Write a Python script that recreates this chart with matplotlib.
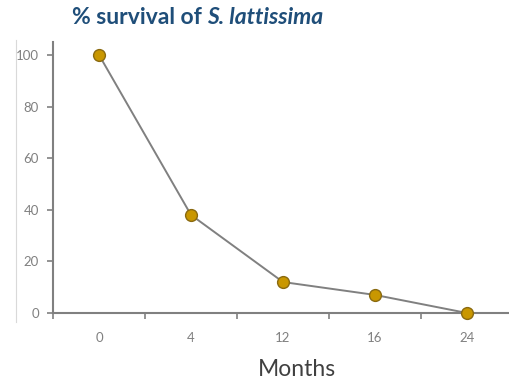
import matplotlib
matplotlib.use("Agg")
import matplotlib.pyplot as plt
from matplotlib.lines import Line2D

months = ["0", "4", "12", "16", "24"]
survival = [100, 38, 12, 7, 0]
y_ticks = [0, 20, 40, 60, 80, 100]

grey = "#808080"
gold = "#c99700"
navy = "#1f4e79"

plt.rcParams["font.family"] = ["Lato", "DejaVu Sans"]

fig = plt.figure(figsize=(5.10, 3.83), dpi=100)
ax = fig.add_axes([53 / 510, 1 - 313 / 383, 460 / 510, 271 / 383])

x = range(len(months))
ax.plot(x, survival, color=grey, lw=1.4, marker="o", ms=8.5,
        markerfacecolor=gold, markeredgecolor="#8a6a10", markeredgewidth=1.0,
        clip_on=False, zorder=3)

ax.set_xlim(-0.5, len(months) - 0.5)
ax.set_ylim(0, 105)
ax.set_yticks(y_ticks)
ax.set_xticks(x)
ax.set_xticklabels(months)
# category boundaries carry the x tick marks
ax.set_xticks([i - 0.5 for i in range(len(months) + 1)], minor=True)
ax.tick_params(axis="x", which="major", length=0, pad=14, labelsize=9.5, labelcolor=grey)
ax.tick_params(axis="x", which="minor", length=4, width=1.2, color=grey, direction="out")
ax.tick_params(axis="y", length=4, width=1.2, color=grey, labelsize=9.5, labelcolor=grey, pad=6)

for side in ["top", "right"]:
    ax.spines[side].set_visible(False)
for side in ["left", "bottom"]:
    ax.spines[side].set_color(grey)
    ax.spines[side].set_linewidth(1.5)

# title in two runs: plain then italic species name
t1 = fig.text(72 / 510, 1 - 18 / 383, "% survival of ", fontsize=16.5, fontweight="bold",
              color=navy, va="center", ha="left")
fig.canvas.draw()
bb = t1.get_window_extent()
fig.text(bb.x1 / fig.bbox.width, 1 - 18 / 383, "S. lattissima", fontsize=16.5,
         fontweight="bold", style="italic", color=navy, va="center", ha="left")

# faint border of the chart area
fig.add_artist(Line2D([16 / 510, 16 / 510], [1 - 322 / 383, 1 - 40 / 383],
                      color="#d9d9d9", lw=0.8))

fig.text(297 / 510, 1 - 369 / 383, "Months", fontsize=16.5, color="#404040",
         ha="center", va="center")

fig.savefig("out.png", dpi=100)
